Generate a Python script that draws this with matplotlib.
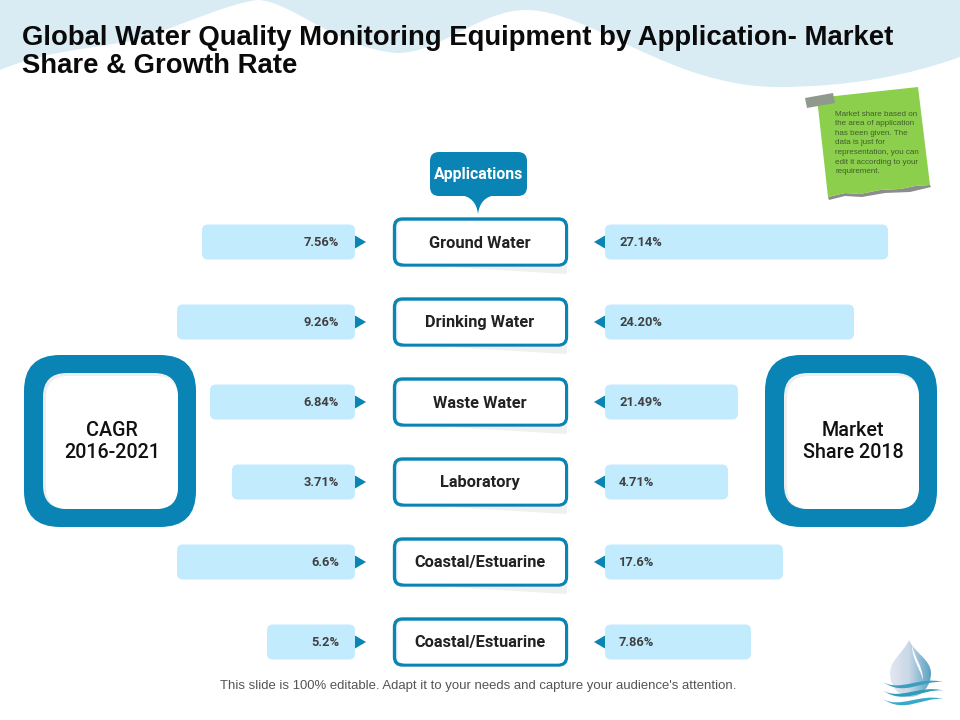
import numpy as np
from matplotlib import pyplot as plt
from matplotlib.patches import FancyBboxPatch, Polygon, PathPatch
from matplotlib.path import Path
from matplotlib.colors import LinearSegmentedColormap

# data
applications = ["Ground Water", "Drinking Water", "Waste Water", "Laboratory",
                "Coastal/Estuarine", "Coastal/Estuarine"]
cagr_labels = ["7.56%", "9.26%", "6.84%", "3.71%", "6.6%", "5.2%"]
share_labels = ["27.14%", "24.20%", "21.49%", "4.71%", "17.6%", "7.86%"]
# bar lengths do not follow the labels in the original, so they are read in px
cagr_bar_len = [153, 178, 145, 123, 178, 88]
share_bar_len = [283, 249, 133, 123, 178, 146]

note_lines = ["Market share based on", "the area of application", "has been given. The",
              "data is just for", "representation, you can", "edit it according to your",
              "requirement."]

BLUE = "#0a84b4"
LIGHT = "#c2ebfd"

plt.rcParams['font.family'] = ['Roboto', 'DejaVu Sans']
fig = plt.figure(figsize=(9.6, 7.2), dpi=100)
ax = fig.add_axes([0, 0, 1, 1])
ax.set_xlim(0, 960)
ax.set_ylim(720, 0)
ax.axis("off")


def rbox(x0, y0, x1, y1, r, **kw):
    p = FancyBboxPatch((x0 + r, y0 + r), x1 - x0 - 2 * r, y1 - y0 - 2 * r,
                       boxstyle="round,pad=%f,rounding_size=%f" % (r, r), **kw)
    ax.add_patch(p)
    return p


# wave at the top
verts = [(0, 0), (0, 70),
         (60, 45), (110, 50), (150, 35),
         (195, 20), (225, 5), (257, 0),
         (290, 0), (340, 50), (398, 53),
         (440, 53), (480, 10), (526, 10),
         (590, 10), (670, 87), (778, 87),
         (850, 87), (910, 75), (960, 57),
         (960, 0), (0, 0)]
codes = [Path.MOVETO, Path.LINETO] + [Path.CURVE4] * 18 + [Path.LINETO, Path.CLOSEPOLY]
ax.add_patch(PathPatch(Path(verts, codes), fc="#d9ebf3", ec="none", zorder=1))

# title
title_font = dict(family=['Liberation Sans', 'DejaVu Sans'], fontsize=19.8, fontweight="bold",
                  color="#0a0a0a", va="center", zorder=5)
ax.text(22, 38, "Global Water Quality Monitoring Equipment by Application- Market", **title_font)
ax.text(22, 66, "Share & Growth Rate", **title_font)

# sticky note
torn = [(828, 197), (845, 193), (860, 194), (880, 190), (900, 189), (915, 186), (930, 185)]
ax.add_patch(Polygon(torn + [(931, 187), (910, 192), (885, 193), (862, 197), (845, 196), (829, 200)],
                     fc="#8c8c8c", ec="none", zorder=2))
ax.add_patch(Polygon([(817, 98), (918, 87), (930, 185)] + torn[::-1][1:],
                     fc="#8ccf4c", ec="none", zorder=3))
ax.add_patch(Polygon([(805, 98), (833, 93), (835, 103), (807, 108)],
                     fc="#8f9a8c", ec="none", zorder=4))
for i, line in enumerate(note_lines):
    ax.text(835, 114 + i * 9.6, line, fontsize=5.8, color="#3f5f2c", va="center", zorder=5,
            family=['Liberation Sans', 'DejaVu Sans'])

# callout
rbox(430, 152, 527, 196, 9, fc=BLUE, ec="none", zorder=3)
ax.add_patch(PathPatch(Path([(460, 195), (476, 197), (478, 214), (480, 197), (496, 195), (460, 195)],
                            [Path.MOVETO, Path.CURVE3, Path.CURVE3, Path.CURVE3, Path.CURVE3, Path.CLOSEPOLY]),
                       fc=BLUE, ec="none", zorder=3))
ax.text(478.5, 175, "Applications", fontsize=11.4, fontweight="bold", color="white",
        ha="center", va="center", zorder=5)

# rows
ys = 242 + 80 * np.arange(len(applications))
for i in range(len(applications)):
    y = ys[i]
    # grey wedge under the box
    if i < 5:
        ax.add_patch(Polygon([(430, y + 24), (567, y + 24), (567, y + 32)],
                             fc="#f0f0f0", ec="none", zorder=2))
    rbox(394.5, y - 23, 566.5, y + 23, 8, fc="#f1f3f4", ec=BLUE, lw=2.4, zorder=3)
    rbox(398, y - 20.5, 565, y + 21.5, 7, fc="white", ec="none", zorder=4)
    ax.text(480, y + 1, applications[i], fontsize=11.8, fontweight="bold", color="#222222",
            ha="center", va="center", zorder=5)

    rbox(355 - cagr_bar_len[i], y - 17.5, 355, y + 17.5, 6, fc=LIGHT, ec="none", zorder=3)
    ax.add_patch(Polygon([(355, y - 6.5), (366, y), (355, y + 6.5)], fc=BLUE, ec="none", zorder=4))
    ax.text(339, y, cagr_labels[i], fontsize=9.3, fontweight="bold", color="#404040",
            ha="right", va="center", zorder=5)

    rbox(605, y - 17.5, 605 + share_bar_len[i], y + 17.5, 6, fc=LIGHT, ec="none", zorder=3)
    ax.add_patch(Polygon([(605, y - 6.5), (594, y), (605, y + 6.5)], fc=BLUE, ec="none", zorder=4))
    ax.text(619, y, share_labels[i], fontsize=9.3, fontweight="bold", color="#404040",
            ha="left", va="center", zorder=5)

# big side frames
for x0, label in [(24, "CAGR\n2016-2021"), (765, "Market\nShare 2018")]:
    rbox(x0, 355, x0 + 172, 527, 36, fc=BLUE, ec="none", zorder=3)
    rbox(x0 + 19, 373, x0 + 154, 509, 24, fc="#eeeeee", ec="none", zorder=4)
    rbox(x0 + 22, 376, x0 + 154, 509, 22, fc="white", ec="none", zorder=4)
    ax.text(x0 + 88, 441, label, fontsize=14.2, fontweight="medium", color="#111111",
            ha="center", va="center", linespacing=1.2, zorder=5)

# footer
ax.text(478.5, 686, "This slide is 100% editable. Adapt it to your needs and capture your audience's attention.",
        fontsize=9.45, color="#555555", ha="center", va="center", zorder=5,
        family=['Liberation Sans', 'DejaVu Sans'])

# water drop logo
drop = Path([(909, 640), (904, 652), (890, 660), (890, 673),
             (890, 688), (900, 697), (910, 697),
             (922, 697), (931, 686), (931, 673),
             (931, 660), (914, 652), (909, 640)],
            [Path.MOVETO] + [Path.CURVE4] * 12)
cmap = LinearSegmentedColormap.from_list("drop", ["#e6ebf3", "#c8d6e6", "#5aa2c4"])
im = ax.imshow(np.linspace(0, 1, 64).reshape(1, -1), extent=(888, 931, 701, 640),
               cmap=cmap, aspect="auto", zorder=3)
clip = PathPatch(drop, transform=ax.transData, fc="none", ec="none")
ax.add_patch(clip)
im.set_clip_path(clip)
ax.set_xlim(0, 960)
ax.set_ylim(720, 0)
# white crescent in the drop
ax.add_patch(PathPatch(Path([(912, 644), (914, 658), (923, 666), (923, 680),
                             (920, 668), (912, 660), (912, 644)],
                            [Path.MOVETO] + [Path.CURVE4] * 6),
                       fc="white", ec="none", zorder=4))
# waves under the drop
for k, col in enumerate(["#3b9fc0", "#2f9cbc", "#38a9c6"]):
    d = k * 8.5
    ax.add_patch(PathPatch(Path([(883, 682 + d), (900, 692 + d), (920, 676 + d), (943, 682 + d),
                                 (922, 680 + d), (905, 697 + d), (883, 682 + d)],
                                [Path.MOVETO] + [Path.CURVE4] * 6),
                           fc=col, ec="none", zorder=5))

fig.savefig("out.png", dpi=100)
